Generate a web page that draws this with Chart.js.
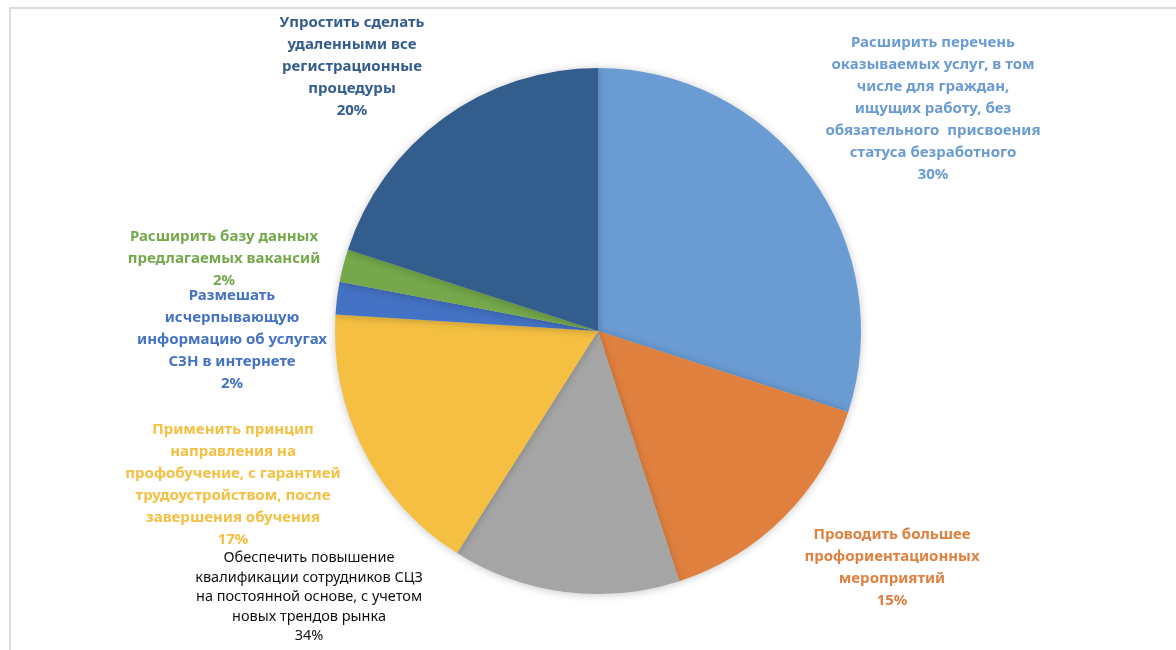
<!DOCTYPE html>
<html>
<head>
<meta charset="utf-8">
<script src="https://cdn.jsdelivr.net/npm/chart.js@4"></script>
<style>
  html, body { margin: 0; padding: 0; background: #fff; }
  #wrap { width: 1176px; height: 650px; position: relative; }
</style>
</head>
<body>
<div id="wrap"><canvas id="pieChart"></canvas></div>
<script>
// данные диаграммы
const categories = [
    ['Расширить перечень', 'оказываемых услуг, в том', 'числе для граждан,', 'ищущих работу, без', 'обязательного  присвоения', 'статуса безработного'],
    ['Проводить большее', 'профориентационных', 'мероприятий'],
    ['Обеспечить повышение', 'квалификации сотрудников СЦЗ', 'на постоянной основе, с учетом', 'новых трендов рынка'],
    ['Применить принцип', 'направления на', 'профобучение, с гарантией', 'трудоустройством, после', 'завершения обучения'],
    ['Размешать', 'исчерпывающую', 'информацию об услугах', 'СЗН в интернете'],
    ['Расширить базу данных', 'предлагаемых вакансий'],
    ['Упростить сделать', 'удаленными все', 'регистрационные', 'процедуры']
];
const values = [30, 15, 14, 17, 2, 2, 20];
const percentLabels = ['30%', '15%', '34%', '17%', '2%', '2%', '20%'];

const sliceColors = ['#6a9bd2', '#e0803f', '#a5a5a5', '#f5c042', '#4472c4', '#74a84b', '#335d8d'];
const textColors  = ['#6a9bd2', '#e0803f', '#111111', '#f5c042', '#4472c4', '#74a84b', '#335d8d'];
// смещение центра подписи от центра круга (px)
const labelOffsets = [[335, -222], [294, 237], [-289, 266], [-365, 154], [-366, 9], [-374, -72], [-246, -264]];

const framePlugin = {
    id: 'frame',
    beforeDraw(chart) {
        const ctx = chart.ctx;
        ctx.save();
        ctx.fillStyle = '#fff';
        ctx.fillRect(0, 0, chart.width, chart.height);
        ctx.strokeStyle = '#dcdcdc';
        ctx.lineWidth = 2;
        ctx.beginPath();
        ctx.moveTo(10, chart.height);
        ctx.lineTo(10, 8);
        ctx.lineTo(chart.width, 8);
        ctx.stroke();
        ctx.restore();
    },
    beforeDatasetsDraw(chart) {
        const ctx = chart.ctx;
        ctx.save();
        ctx.shadowColor = 'rgba(0,0,0,0.22)';
        ctx.shadowBlur = 8;
        ctx.shadowOffsetY = 1;
    },
    afterDatasetsDraw(chart) {
        chart.ctx.restore();
    }
};

const labelPlugin = {
    id: 'sliceLabels',
    afterDraw(chart) {
        const ctx = chart.ctx;
        const arc = chart.getDatasetMeta(0).data[0];
        const cx = arc.x, cy = arc.y;
        ctx.save();
        ctx.textAlign = 'center';
        ctx.textBaseline = 'middle';
        categories.forEach((lines, i) => {
            const all = lines.concat([percentLabels[i]]);
            const plain = i === 2;
            const lh = plain ? 19.5 : 22;
            ctx.font = plain ? '14.5px "Noto Sans"' : 'bold 15px "Noto Sans"';
            ctx.fillStyle = textColors[i];
            const x = cx + labelOffsets[i][0];
            const y0 = cy + labelOffsets[i][1] - (all.length - 1) * lh / 2;
            all.forEach((t, j) => ctx.fillText(t, x, y0 + j * lh));
        });
        ctx.restore();
    }
};

const ctx = document.getElementById('pieChart').getContext('2d');
const pieChart = new Chart(ctx, {
    type: 'pie',
    data: {
        labels: categories.map(c => c.join(' ')),
        datasets: [{
            data: values,
            backgroundColor: sliceColors,
            borderWidth: 0
        }]
    },
    options: {
        responsive: true,
        maintainAspectRatio: false,
        animation: false,
        layout: { padding: { left: 335, right: 315, top: 68, bottom: 56 } },
        plugins: {
            legend: { display: false },
            tooltip: { enabled: false }
        }
    },
    plugins: [framePlugin, labelPlugin]
});
</script>
</body>
</html>
